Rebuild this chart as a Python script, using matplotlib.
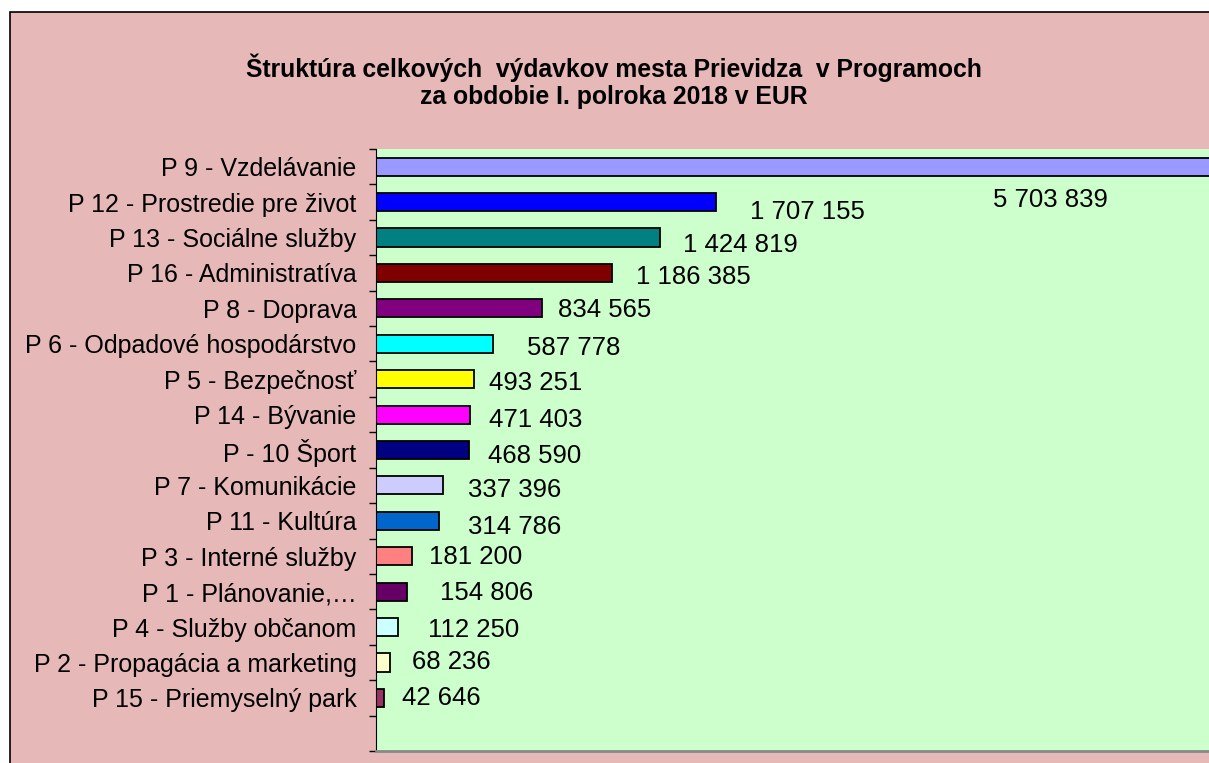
import matplotlib.pyplot as plt
from matplotlib.patches import Rectangle
from matplotlib.transforms import offset_copy

plt.rcParams['font.family'] = ['Liberation Sans', 'DejaVu Sans']

programs = ["P 9 - Vzdelávanie", "P 12 - Prostredie pre život", "P 13 - Sociálne služby",
            "P 16 - Administratíva", "P 8 - Doprava", "P 6 - Odpadové hospodárstvo",
            "P 5 - Bezpečnosť", "P 14 - Bývanie", "P - 10 Šport", "P 7 - Komunikácie",
            "P 11 - Kultúra", "P 3 - Interné služby", "P 1 - Plánovanie,…",
            "P 4 - Služby občanom", "P 2 - Propagácia a marketing", "P 15 - Priemyselný park"]
spending = [5703839, 1707155, 1424819, 1186385, 834565, 587778, 493251, 471403,
            468590, 337396, 314786, 181200, 154806, 112250, 68236, 42646]
colors = ["#9999FF", "#0000FF", "#008080", "#800000", "#800080", "#00FFFF", "#FFFF00",
          "#FF00FF", "#000080", "#CCCCFF", "#0066CC", "#FF8080", "#660066", "#CCFFFF",
          "#FFFFCC", "#993366"]

# label offsets from bar end, in pixels (right, down)
label_dx = [None, 34, 23, 24, 16, 34, 15, 19, 19, 25, 29, 17, 33, 30, 22, 18]
label_dy = [None, 10, 7, 4, 2, 4, 4, 5, 6, 5, 6, 1, 1, 3, 0, 0]

fig = plt.figure(figsize=(12.09, 7.63), dpi=100)
fig.patch.set_facecolor("white")
bg = Rectangle((10 / 1209, -0.1), 1.2, 1.1 - 12 / 763, transform=fig.transFigure,
               facecolor="#E6B8B7", edgecolor="black", linewidth=1.2, zorder=-10)
fig.patches.append(bg)

ax = fig.add_axes([376 / 1209, 12 / 763, 1200 / 1209, 602 / 763])
ax.set_facecolor("#CCFFCC")
ax.set_xlim(0, 6.03e6)

pos = list(range(len(programs)))
nrows = len(programs) + 1  # excel leaves one empty slot at the bottom
ax.barh(pos, spending, height=0.51, color=colors, edgecolor="black", linewidth=1.3)
ax.set_ylim(nrows - 0.5, -0.5)
ax.set_yticks(pos)
ax.set_yticklabels(programs, fontsize=18)
ax.set_yticks([p - 0.5 for p in range(nrows + 1)], minor=True)
ax.tick_params(axis="y", which="major", length=0, pad=14)
ax.tick_params(axis="y", which="minor", length=5, width=1, color="black", direction="out")
ax.set_xticks([])
for s in ["top", "right"]:
    ax.spines[s].set_visible(False)
ax.spines["left"].set_color("black")
ax.spines["bottom"].set_color("#888888")
ax.spines["bottom"].set_linewidth(2)

for i, v in enumerate(spending):
    txt = f"{v:,}".replace(",", " ")
    if label_dx[i] is None:
        # the longest bar runs off the chart; its label sits below the visible part
        fig.text(1050 / 1209, 1 - 200 / 763, txt, fontsize=18.5, ha="center", va="center")
        continue
    tr = offset_copy(ax.transData, fig=fig, x=label_dx[i], y=-label_dy[i], units="dots")
    ax.text(v, i, txt, fontsize=18.5, ha="left", va="center", transform=tr)

fig.text(614 / 1209, 1 - 68 / 763, "Štruktúra celkových  výdavkov mesta Prievidza  v Programoch",
         fontsize=17.8, fontweight="bold", ha="center", va="center")
fig.text(614 / 1209, 1 - 97 / 763, "za obdobie I. polroka 2018 v EUR",
         fontsize=17.8, fontweight="bold", ha="center", va="center")

fig.savefig("out.png", dpi=100)
